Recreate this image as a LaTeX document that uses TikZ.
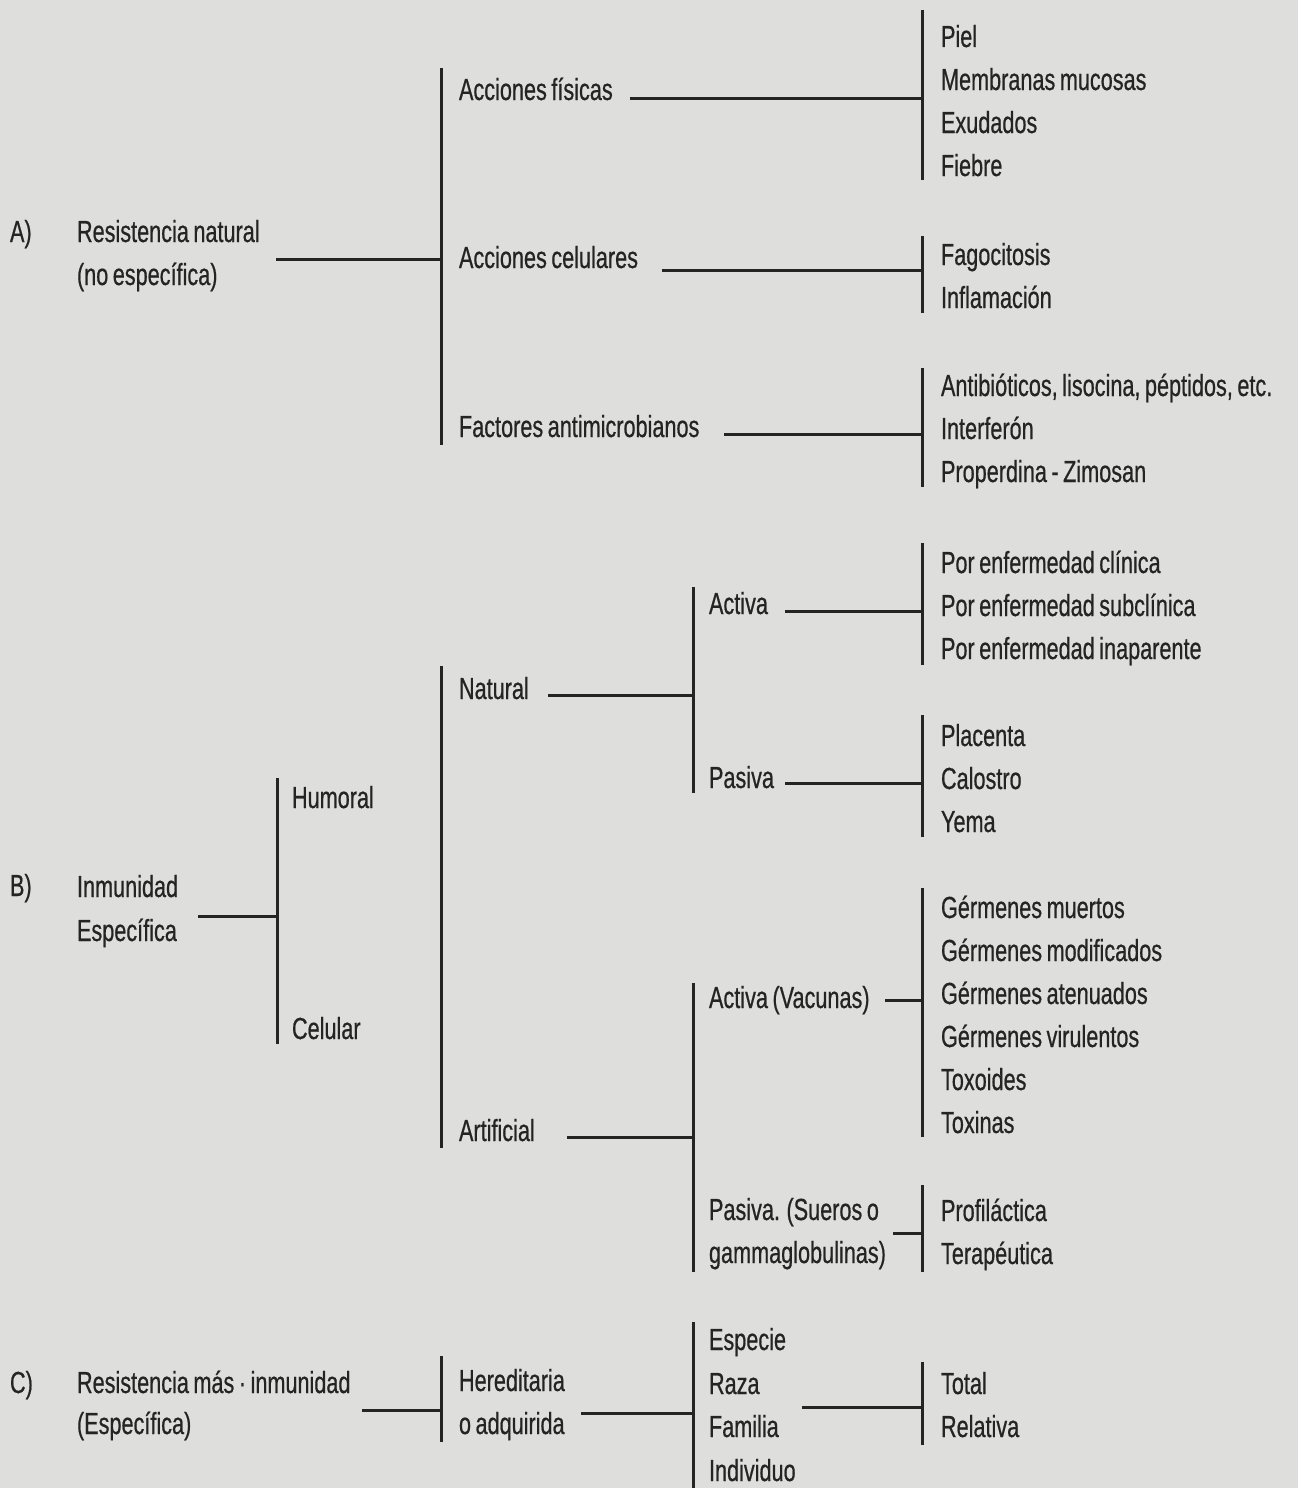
\documentclass[tikz,border=0pt]{standalone}
\usepackage{fontspec}
\setmainfont[FakeStretch=0.71,FakeBold=0.6,WordSpace=0.75]{Liberation Sans}
\definecolor{bg}{RGB}{222,223,221}
\definecolor{ink}{RGB}{36,36,36}
\tikzset{
  txt/.style={anchor=base west, inner sep=0pt, outer sep=0pt, text=ink, font=\fontsize{30.5}{43}\selectfont},
  ln/.style={draw=ink, line width=3pt},
}
\begin{document}
\begin{tikzpicture}[x=1pt, y=-1pt]
\fill[bg] (0,0) rectangle (1298,1488);
\useasboundingbox (0,0) rectangle (1298,1488);

% ---------------- A ----------------
\node[txt] (Alab)  at (10,242) {A)};
\node[txt] (Ares1) at (77,242) {Resistencia natural};
\node[txt] (Ares2) at (77,285) {(no específica)};
\node[txt] (fis) at (459,100) {Acciones físicas};
\node[txt] (cel) at (459,268) {Acciones celulares};
\node[txt] (fac) at (459,437) {Factores antimicrobianos};
\node[txt] (piel) at (941,47)  {Piel};
\node[txt] (memb) at (941,90)  {Membranas mucosas};
\node[txt] (exud) at (941,133) {Exudados};
\node[txt] (fieb) at (941,176) {Fiebre};
\node[txt] (fago) at (941,265) {Fagocitosis};
\node[txt] (infl) at (941,308) {Inflamación};
\node[txt] (anti) at (941,396) {Antibióticos, lisocina, péptidos, etc.};
\node[txt] (intf) at (941,439) {Interferón};
\node[txt] (prop) at (941,482) {Properdina - Zimosan};

\coordinate (vA1) at (441,68);  \coordinate (vA2) at (441,445);
\coordinate (vF1) at (922,10);  \coordinate (vF2) at (922,180);
\coordinate (vC1) at (922,236); \coordinate (vC2) at (922,313);
\coordinate (vX1) at (922,368); \coordinate (vX2) at (922,487);
\coordinate (hA) at (276,259);
\coordinate (hF) at (630,98);
\coordinate (hC) at (662,270);
\coordinate (hX) at (724,434);
\draw[ln] (vA1) -- (vA2);
\draw[ln] (vF1) -- (vF2);
\draw[ln] (vC1) -- (vC2);
\draw[ln] (vX1) -- (vX2);
\draw[ln] (hA) -- (hA -| vA1);
\draw[ln] (hF) -- (hF -| vF1);
\draw[ln] (hC) -- (hC -| vC1);
\draw[ln] (hX) -- (hX -| vX1);

% ---------------- B ----------------
\node[txt] (Blab) at (10,896) {B)};
\node[txt] (Bin1) at (77,897) {Inmunidad};
\node[txt] (Bin2) at (77,941) {Específica};
\node[txt] (hum) at (292,808) {Humoral};
\node[txt] (celu) at (292,1039) {Celular};
\node[txt] (nat) at (459,699) {Natural};
\node[txt] (art) at (459,1141) {Artificial};
\node[txt] (act) at (709,614) {Activa};
\node[txt] (pas) at (709,788) {Pasiva};
\node[txt] (actv) at (709,1008) {Activa (Vacunas)};
\node[txt] (pasv1) at (709,1220) {Pasiva. (Sueros o};
\node[txt] (pasv2) at (709,1263) {gammaglobulinas)};
\node[txt] (pe1) at (941,573) {Por enfermedad clínica};
\node[txt] (pe2) at (941,616) {Por enfermedad subclínica};
\node[txt] (pe3) at (941,659) {Por enfermedad inaparente};
\node[txt] (plac) at (941,746) {Placenta};
\node[txt] (calo) at (941,789) {Calostro};
\node[txt] (yema) at (941,832) {Yema};
\node[txt] (g1) at (941,918)  {Gérmenes muertos};
\node[txt] (g2) at (941,961)  {Gérmenes modificados};
\node[txt] (g3) at (941,1004) {Gérmenes atenuados};
\node[txt] (g4) at (941,1047) {Gérmenes virulentos};
\node[txt] (tox1) at (941,1090) {Toxoides};
\node[txt] (tox2) at (941,1133) {Toxinas};
\node[txt] (prof) at (941,1221) {Profiláctica};
\node[txt] (tera) at (941,1264) {Terapéutica};

\coordinate (vB1) at (277,778);  \coordinate (vB2) at (277,1044);
\coordinate (vN1) at (441,666);  \coordinate (vN2) at (441,1148);
\coordinate (vNa1) at (693,587); \coordinate (vNa2) at (693,793);
\coordinate (vAr1) at (693,983); \coordinate (vAr2) at (693,1272);
\coordinate (vP1) at (922,543);  \coordinate (vP2) at (922,665);
\coordinate (vQ1) at (922,715);  \coordinate (vQ2) at (922,837);
\coordinate (vG1) at (922,888);  \coordinate (vG2) at (922,1137);
\coordinate (vS1) at (922,1185); \coordinate (vS2) at (922,1272);
\coordinate (hB) at (198,916);
\coordinate (hNat) at (548,695);
\coordinate (hArt) at (567,1137);
\coordinate (hAct) at (785,611);
\coordinate (hPas) at (785,783);
\coordinate (hActv) at (885,1000);
\coordinate (hPasv) at (893,1233);
\draw[ln] (vB1) -- (vB2);
\draw[ln] (vN1) -- (vN2);
\draw[ln] (vNa1) -- (vNa2);
\draw[ln] (vAr1) -- (vAr2);
\draw[ln] (vP1) -- (vP2);
\draw[ln] (vQ1) -- (vQ2);
\draw[ln] (vG1) -- (vG2);
\draw[ln] (vS1) -- (vS2);
\draw[ln] (hB) -- (hB -| vB1);
\draw[ln] (hNat) -- (hNat -| vNa1);
\draw[ln] (hArt) -- (hArt -| vAr1);
\draw[ln] (hAct) -- (hAct -| vP1);
\draw[ln] (hPas) -- (hPas -| vQ1);
\draw[ln] (hActv) -- (hActv -| vG1);
\draw[ln] (hPasv) -- (hPasv -| vS1);

% ---------------- C ----------------
\node[txt] (Clab) at (10,1393) {C)};
\node[txt] (Cres1) at (77,1393) {Resistencia más · inmunidad};
\node[txt] (Cres2) at (77,1434) {(Específica)};
\node[txt] (her1) at (459,1391) {Hereditaria};
\node[txt] (her2) at (459,1434) {o adquirida};
\node[txt] (esp) at (709,1350) {Especie};
\node[txt] (raza) at (709,1394) {Raza};
\node[txt] (fam) at (709,1437) {Familia};
\node[txt] (ind) at (709,1481) {Individuo};
\node[txt] (tot) at (941,1394) {Total};
\node[txt] (rel) at (941,1437) {Relativa};

\coordinate (vH1) at (441,1356); \coordinate (vH2) at (441,1442);
\coordinate (vE1) at (693,1322); \coordinate (vE2) at (693,1488);
\coordinate (vT1) at (922,1362); \coordinate (vT2) at (922,1445);
\coordinate (hC1) at (362,1410);
\coordinate (hH) at (581,1413);
\coordinate (hE) at (802,1407);
\draw[ln] (vH1) -- (vH2);
\draw[ln] (vE1) -- (vE2);
\draw[ln] (vT1) -- (vT2);
\draw[ln] (hC1) -- (hC1 -| vH1);
\draw[ln] (hH) -- (hH -| vE1);
\draw[ln] (hE) -- (hE -| vT1);
\end{tikzpicture}
\end{document}
